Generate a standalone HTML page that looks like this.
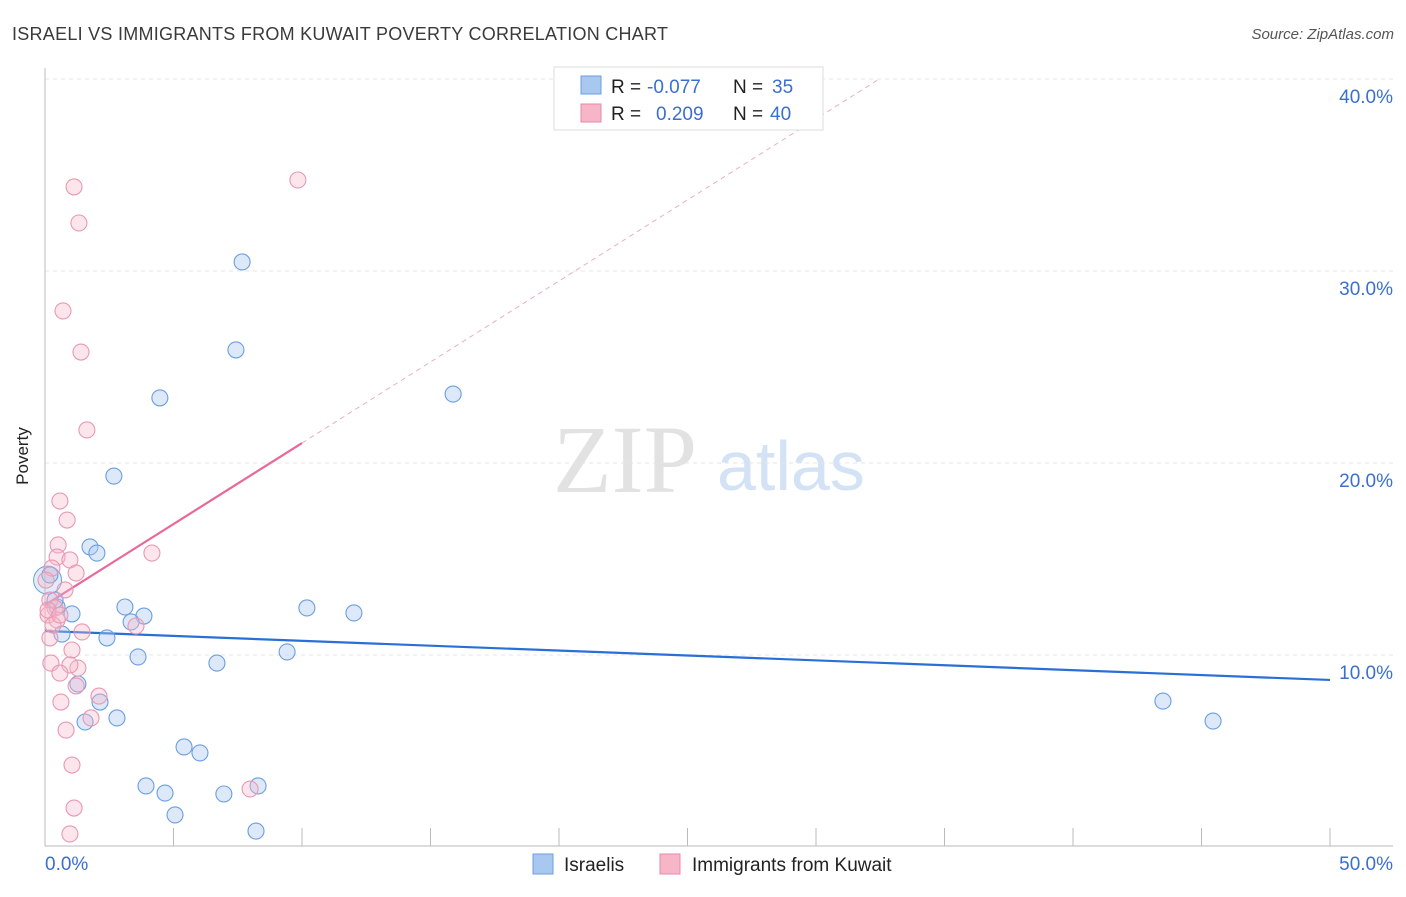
<!DOCTYPE html>
<html><head><meta charset="utf-8"><style>
body{margin:0;background:#fff;font-family:"Liberation Sans",sans-serif;}
</style></head><body>
<svg id="c" width="1406" height="892" xmlns="http://www.w3.org/2000/svg">
<text x="12" y="40" font-size="18" fill="#3a3a3a" textLength="656">ISRAELI VS IMMIGRANTS FROM KUWAIT POVERTY CORRELATION CHART</text>
<text x="1394" y="39" font-size="15" fill="#555" font-style="italic" text-anchor="end">Source: ZipAtlas.com</text>
<text x="28" y="456" font-size="17" fill="#222" text-anchor="middle" transform="rotate(-90 28 456)">Poverty</text>
<g>
<text x="553" y="492" font-size="96" font-family="Liberation Serif,serif" fill="#e2e2e2">ZIP</text>
<text x="717" y="490" font-size="70" fill="#d4e2f5">atlas</text>
</g>
<g id="grid"></g><g id="axes"></g><g id="lines"></g><g id="pts"></g>
<g>
<rect x="554" y="67" width="269" height="63" fill="#fff" stroke="#ddd"/>
<rect x="581" y="76" width="20" height="18" fill="#a9c8f0" stroke="#6a9ee0"/>
<text x="611" y="93" font-size="19" fill="#222">R = </text>
<text x="647" y="93" font-size="19" fill="#3a6fd0">-0.077</text>
<text x="733" y="93" font-size="19" fill="#222">N = </text>
<text x="772" y="93" font-size="19" fill="#3a6fd0">35</text>
<rect x="581" y="104" width="20" height="18" fill="#f7b6c8" stroke="#e888a8"/>
<text x="611" y="120" font-size="19" fill="#222">R = </text>
<text x="656" y="120" font-size="19" fill="#3a6fd0">0.209</text>
<text x="733" y="120" font-size="19" fill="#222">N = </text>
<text x="770" y="120" font-size="19" fill="#3a6fd0">40</text>
</g>
<g>
<rect x="533" y="854" width="20" height="20" fill="#a9c8f0" stroke="#6a9ee0"/>
<text x="564" y="871" font-size="19" fill="#222">Israelis</text>
<rect x="660" y="854" width="20" height="20" fill="#f7b6c8" stroke="#e888a8"/>
<text x="692" y="871" font-size="19" fill="#222">Immigrants from Kuwait</text>
</g>
</svg>
<script>
const israeliX=[7.67,7.43,4.47,15.88,2.68,1.75,2.02,3.11,3.85,3.35,1.05,0.47,0.66,2.41,3.62,6.69,9.42,10.19,12.02,1.28,2.14,2.8,1.56,5.41,6.03,3.93,4.67,6.96,8.29,5.06,8.21,43.5,45.45,0.19,0.39];
const israeliY=[30.47,25.89,23.39,23.59,19.32,15.63,15.31,12.5,12.03,11.72,12.14,12.5,11.09,10.89,9.9,9.58,10.16,12.45,12.19,8.49,7.55,6.72,6.51,5.21,4.9,3.18,2.81,2.76,3.18,1.67,0.83,7.6,6.56,14.17,12.86];
const kuwaitX=[9.84,1.13,1.32,0.7,1.4,1.63,0.58,0.86,0.51,4.16,0.47,0.97,0.27,1.21,0.78,0.19,0.39,0.12,0.47,1.44,0.19,3.54,1.05,0.23,1.28,0.97,0.58,1.21,2.1,0.62,1.79,0.82,1.05,1.13,0.97,7.98,0.04,0.12,0.31,0.58];
const kuwaitY=[34.74,34.38,32.5,27.92,25.78,21.72,18.02,17.03,15.73,15.31,15.1,14.95,14.53,14.27,13.39,12.86,12.45,12.08,11.82,11.2,10.89,11.51,10.26,9.58,9.32,9.48,9.06,8.39,7.86,7.55,6.72,6.09,4.27,2.03,0.68,3.02,13.9,12.34,11.56,12.08];
const yTicks=[10,20,30,40];
const yTickLabels=["10.0%","20.0%","30.0%","40.0%"];
const xTicks=[0,5,10,15,20,25,30,35,40,45,50];
const israeliFit=[11.25,8.7];
const kuwaitFit=[12.6,0.844];
const NS="http://www.w3.org/2000/svg";
const X=v=>45+v*25.7, Y=v=>847-v*19.2;
function mk(p,t,a){const e=document.createElementNS(NS,t);for(const k in a)e.setAttribute(k,a[k]);document.getElementById(p).appendChild(e);return e;}
yTicks.forEach((t,i)=>{
 const g=mk('grid','line',{x1:45,x2:1393,y1:Y(t),y2:Y(t),stroke:'#e6e6e6','stroke-dasharray':'4,4'});
 
 
 const l=mk('axes','text',{x:1393,y:Y(t)+24,'font-size':19,fill:'#3a6fd0','text-anchor':'end'});
 l.textContent=yTickLabels[i];
 
 
});
const ax=mk('axes','line',{x1:45,x2:45,y1:68,y2:846,stroke:'#bbb'});


const bx=mk('axes','line',{x1:45,x2:1393,y1:846,y2:846,stroke:'#bbb'});


xTicks.forEach(t=>{
 const k=mk('axes','line',{x1:X(t),x2:X(t),y1:828,y2:846,stroke:'#bbb'});
 
 
});
const x0=mk('axes','text',{x:45,y:870,'font-size':19,fill:'#3a6fd0'});x0.textContent="0.0%";


const x1=mk('axes','text',{x:1393,y:870,'font-size':19,fill:'#3a6fd0','text-anchor':'end'});x1.textContent="50.0%";


const bl=mk('lines','line',{x1:X(0),y1:Y(israeliFit[0]),x2:X(50),y2:Y(israeliFit[1]),stroke:'#2a6fd6','stroke-width':2.2});


const pl=mk('lines','line',{x1:X(0),y1:Y(kuwaitFit[0]),x2:X(10),y2:Y(kuwaitFit[0]+10*kuwaitFit[1]),stroke:'#e8689a','stroke-width':2.2});


const xe=(40-kuwaitFit[0])/kuwaitFit[1];
const pd=mk('lines','line',{x1:X(10),y1:Y(kuwaitFit[0]+10*kuwaitFit[1]),x2:X(xe),y2:Y(40),stroke:'#e8b0c4','stroke-width':1,'stroke-dasharray':'5,4'});


const big=mk('pts','circle',{cx:X(0.1),cy:Y(13.9),r:14,fill:'#a9c8f0','fill-opacity':0.35,stroke:'#6a9ee0'});


israeliX.forEach((v,i)=>{
 const c=mk('pts','circle',{cx:X(v),cy:Y(israeliY[i]),r:8,fill:'#a9c8f0','fill-opacity':0.4,stroke:'#6a9ee0','stroke-width':1.1});
 
 
});
kuwaitX.forEach((v,i)=>{
 const c=mk('pts','circle',{cx:X(v),cy:Y(kuwaitY[i]),r:8,fill:'#f7b6c8','fill-opacity':0.35,stroke:'#e898b4','stroke-width':1.1});
 
 
});
</script>
</body></html>
